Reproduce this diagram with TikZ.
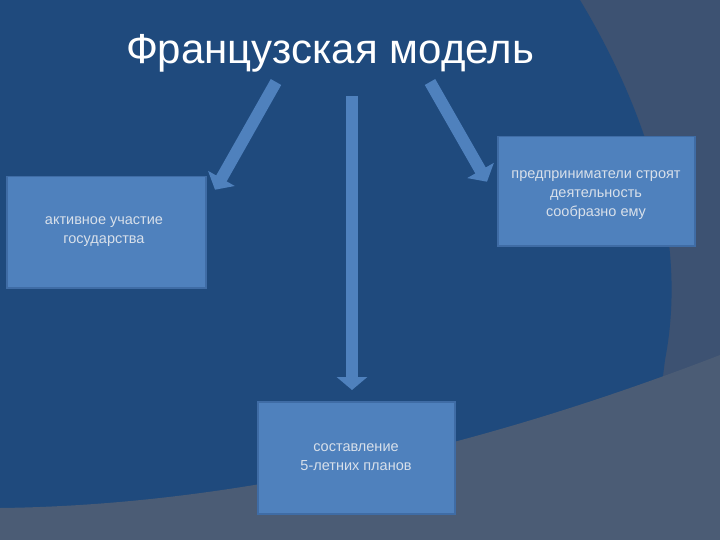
\documentclass[tikz,border=0pt]{standalone}
\usepackage{fontspec}
\setmainfont{Liberation Sans}
\usetikzlibrary{arrows.meta}
\definecolor{slate}{HTML}{3D5272}
\definecolor{dblue}{HTML}{1F4A7D}
\definecolor{lgray}{HTML}{4B5C75}
\definecolor{boxc}{HTML}{4F81BD}
\definecolor{boxe}{HTML}{3F6CA5}
\definecolor{txt}{HTML}{D8E0EA}
\tikzset{
  boxst/.style={draw=boxe, line width=1.5pt, fill=boxc, anchor=north west},
  lbl/.style={text=txt, align=center, font=\fontsize{14.5}{19}\selectfont},
  arr/.style={draw=boxc, line width=12pt, -{Triangle[width=30pt,length=13pt]}, shorten >=-2pt}
}
\begin{document}
\begin{tikzpicture}[x=1pt,y=-1pt]
\useasboundingbox (0,0) rectangle (720,540);
\fill[slate] (0,0) rectangle (720,540);
\fill[dblue] (0,0) -- (580,0) .. controls (640,100) and (690,230) .. (665,360) -- (640,560) -- (0,560) -- cycle;
\fill[lgray] (0,508) .. controls (250,505) and (500,440) .. (720,355) -- (720,540) -- (0,540) -- cycle;
\node[text=white, font=\fontsize{42}{48}\selectfont] (title) at (330,53) {Французская модель};
\node[boxst, minimum width=199pt, minimum height=111pt] (l) at (6,176) {};
\node[lbl] at (104,232) {активное участие\\государства};
\node[boxst, minimum width=197pt, minimum height=109pt] (r) at (497,136) {};
\node[lbl] at (596,195) {предприниматели строят\\деятельность\\сообразно ему};
\node[boxst, minimum width=197pt, minimum height=112pt] (b) at (257,401) {};
\node[lbl] at (356,457) {составление\\5-летних планов};
\coordinate (a1s) at (276,82);
\coordinate (a1e) at (216,188);
\coordinate (a2s) at (352,96);
\coordinate (a2e) at (352,388);
\coordinate (a3s) at (430,82);
\coordinate (a3e) at (486,180);
\draw[arr] (a1s) -- (a1e);
\draw[arr] (a2s) -- (a2e);
\draw[arr] (a3s) -- (a3e);
\end{tikzpicture}
\end{document}
